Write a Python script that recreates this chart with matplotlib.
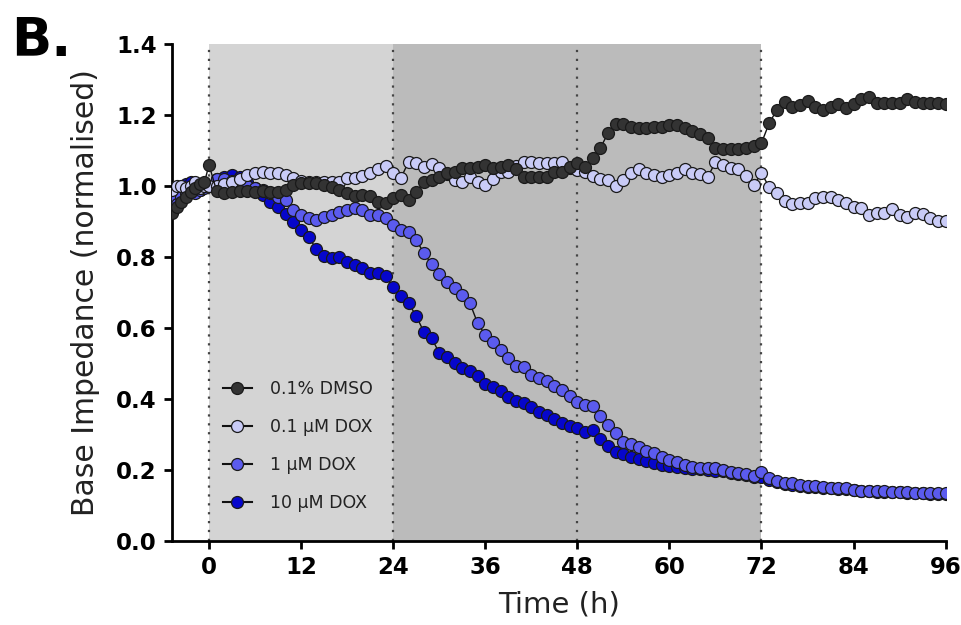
import numpy as np
import matplotlib
matplotlib.use('Agg')
import matplotlib.pyplot as plt
from matplotlib.lines import Line2D

# tempos (h): pontos antes da dose + medidas de hora em hora
pre_t = [-4.8, -4.2, -3.6, -3.0, -2.4, -1.8, -1.2, -0.6, 0.0]
time_h = pre_t + list(range(1, 97))

dmso = [0.925, 0.94, 0.955, 0.968, 0.982, 0.995, 1.005, 1.01, 1.06,
        0.985, 0.98, 0.982, 0.985, 0.985, 0.983, 0.985, 0.983, 0.983, 0.99,
        1.003, 1.008, 1.008, 1.008, 1.003, 0.997, 0.989, 0.98, 0.972, 0.975,
        0.972, 0.955, 0.952, 0.966, 0.975, 0.96, 0.983, 1.011, 1.017, 1.025,
        1.036, 1.04, 1.05, 1.05, 1.053, 1.06, 1.05, 1.053, 1.06, 1.048,
        1.025, 1.025, 1.025, 1.025, 1.04, 1.04, 1.053, 1.065, 1.053, 1.08,
        1.107, 1.149, 1.175, 1.175, 1.166, 1.163, 1.163, 1.166, 1.166, 1.172,
        1.172, 1.163, 1.155, 1.146, 1.135, 1.107, 1.104, 1.104, 1.104, 1.107,
        1.113, 1.121, 1.177, 1.214, 1.237, 1.223, 1.228, 1.239, 1.223, 1.214,
        1.223, 1.231, 1.22, 1.231, 1.245, 1.25, 1.234, 1.234, 1.234, 1.234,
        1.245, 1.237, 1.234, 1.234, 1.234, 1.232]

dox_01 = [0.99, 1.0, 1.0, 0.995, 1.0, 1.01, 0.995, 1.0, 1.0,
          1.0, 1.005, 1.01, 1.02, 1.03, 1.037, 1.04, 1.037, 1.037, 1.031,
          1.022, 1.015, 1.01, 1.01, 1.01, 1.01, 1.011, 1.022, 1.022, 1.028,
          1.037, 1.048, 1.056, 1.036, 1.022, 1.068, 1.065, 1.053, 1.062, 1.05,
          1.035, 1.017, 1.011, 1.025, 1.011, 1.003, 1.02, 1.04, 1.04, 1.055,
          1.068, 1.068, 1.065, 1.065, 1.064, 1.068, 1.05, 1.045, 1.04, 1.028,
          1.02, 1.017, 1.0, 1.017, 1.036, 1.048, 1.036, 1.031, 1.025, 1.03,
          1.036, 1.048, 1.036, 1.034, 1.025, 1.068, 1.059, 1.052, 1.048, 1.028,
          1.003, 1.036, 0.997, 0.98, 0.958, 0.949, 0.952, 0.952, 0.966, 0.969,
          0.969, 0.96, 0.952, 0.941, 0.938, 0.918, 0.924, 0.924, 0.935, 0.918,
          0.913, 0.924, 0.921, 0.91, 0.901, 0.901]

dox_1 = [0.97, 0.95, 0.97, 0.98, 0.99, 0.98, 0.99, 0.995, 1.0,
         1.02, 1.02, 1.015, 1.01, 1.0, 0.995, 0.99, 0.98, 0.97, 0.96,
         0.932, 0.918, 0.91, 0.904, 0.913, 0.918, 0.927, 0.932, 0.938, 0.932,
         0.918, 0.918, 0.91, 0.89, 0.876, 0.87, 0.848, 0.811, 0.78, 0.752,
         0.73, 0.713, 0.693, 0.67, 0.614, 0.58, 0.56, 0.538, 0.515, 0.493,
         0.49, 0.468, 0.459, 0.45, 0.437, 0.425, 0.408, 0.392, 0.383, 0.38,
         0.352, 0.327, 0.304, 0.279, 0.273, 0.265, 0.254, 0.248, 0.237, 0.228,
         0.223, 0.214, 0.208, 0.206, 0.206, 0.206, 0.2, 0.194, 0.192, 0.189,
         0.183, 0.194, 0.177, 0.169, 0.163, 0.163, 0.158, 0.155, 0.155, 0.152,
         0.149, 0.149, 0.148, 0.144, 0.141, 0.141, 0.14, 0.14, 0.138, 0.138,
         0.137, 0.135, 0.135, 0.135, 0.134, 0.134]

dox_10 = [0.95, 0.97, 0.99, 1.005, 1.01, 1.0, 0.99, 1.0, 1.0,
          1.02, 1.025, 1.03, 1.025, 1.01, 0.994, 0.975, 0.955, 0.94, 0.92,
          0.899, 0.876, 0.856, 0.822, 0.803, 0.797, 0.8, 0.786, 0.777, 0.769,
          0.755, 0.755, 0.746, 0.715, 0.689, 0.67, 0.634, 0.589, 0.572, 0.53,
          0.518, 0.501, 0.487, 0.479, 0.465, 0.442, 0.434, 0.423, 0.406, 0.394,
          0.389, 0.377, 0.363, 0.355, 0.344, 0.332, 0.324, 0.318, 0.307, 0.313,
          0.287, 0.268, 0.251, 0.245, 0.237, 0.231, 0.225, 0.22, 0.214, 0.211,
          0.208, 0.206, 0.204, 0.202, 0.2, 0.198, 0.196, 0.192, 0.188, 0.185,
          0.181, 0.18, 0.172, 0.166, 0.161, 0.159, 0.156, 0.153, 0.152, 0.15,
          0.148, 0.147, 0.146, 0.143, 0.14, 0.14, 0.139, 0.139, 0.137, 0.137,
          0.136, 0.134, 0.134, 0.133, 0.133, 0.133]

labels = ['0.1% DMSO', '0.1 µM DOX', '1 µM DOX', '10 µM DOX']
cores = ['#333333', '#c9cbf7', '#5b5bee', '#0606cc']
series = [dmso, dox_01, dox_1, dox_10]

fig = plt.figure(figsize=(9.62, 6.25), dpi=100)
ax = fig.add_axes([0.179, 0.1344, 0.804, 0.7952])

# faixas de tratamento
ax.axvspan(0, 24, color='#d4d4d4', lw=0, zorder=0)
ax.axvspan(24, 72, color='#bbbbbb', lw=0, zorder=0)
for xv in [0, 24, 48, 72]:
    ax.axvline(xv, color='#444444', ls=(0, (1, 3)), lw=1.6, zorder=1)

# desenha do 10 uM ate o DMSO (DMSO fica por cima)
for i in [3, 2, 1, 0]:
    ax.plot(time_h, series[i], color='#111111', lw=1.0, marker='o', ms=8.6,
            mfc=cores[i], mec='#1a1a1a', mew=0.9, zorder=3 + (3 - i))

ax.set_xlim(-4.8, 96)
ax.set_ylim(0, 1.4)
ax.set_xticks([0, 12, 24, 36, 48, 60, 72, 84, 96])
ax.set_yticks([0.0, 0.2, 0.4, 0.6, 0.8, 1.0, 1.2, 1.4])
ax.set_yticklabels(['0.0', '0.2', '0.4', '0.6', '0.8', '1.0', '1.2', '1.4'])
for s in ['top', 'right']:
    ax.spines[s].set_visible(False)
for s in ['left', 'bottom']:
    ax.spines[s].set_linewidth(2.0)
ax.tick_params(width=2.0, length=6, labelsize=16.5, pad=5)
for t in ax.get_xticklabels() + ax.get_yticklabels():
    t.set_fontweight('bold')

ax.set_xlabel('Time (h)', fontsize=21, labelpad=8, color='#222222')
ax.set_ylabel('Base Impedance (normalised)', fontsize=21.5, labelpad=12,
              color='#222222')
fig.text(0.012, 0.91, 'B.', fontsize=38, fontweight='bold')

handles = [Line2D([], [], color='#111111', lw=1.5, marker='o', ms=8.6,
                  mfc=c, mec='#1a1a1a', mew=0.9) for c in cores]
ax.legend(handles, labels, loc='upper left', bbox_to_anchor=(0.045, 0.355),
          frameon=False, fontsize=12.5, handlelength=1.7, labelspacing=1.15,
          handletextpad=1.0, labelcolor='#222222')

fig.savefig('out.png', dpi=100)
